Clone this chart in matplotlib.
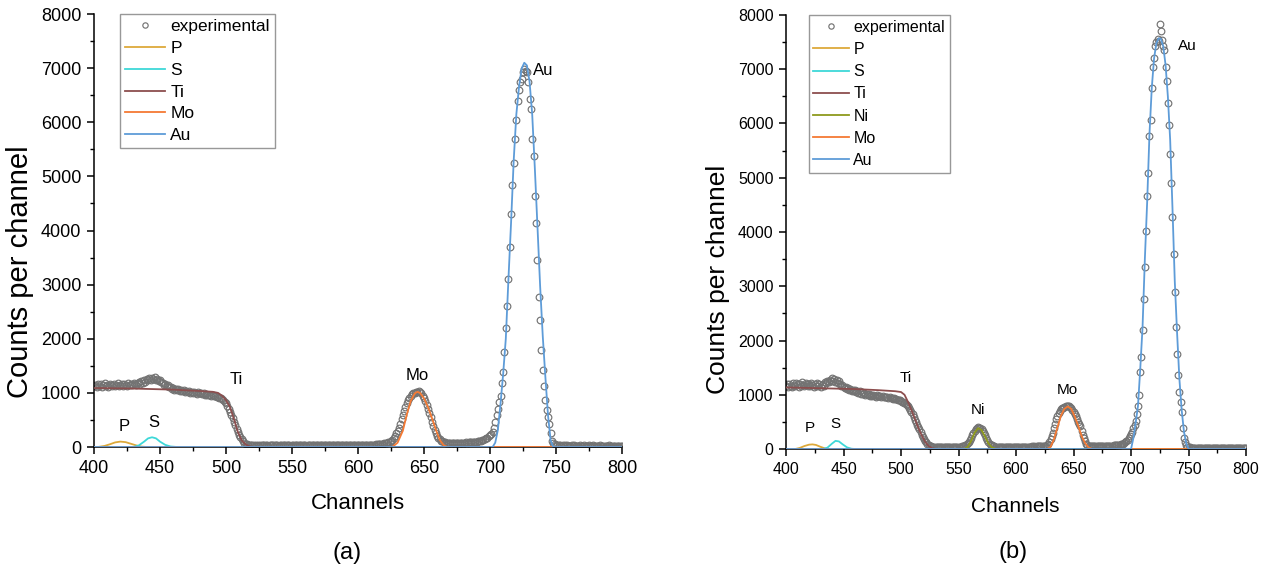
import numpy as np
import matplotlib.pyplot as plt
from matplotlib.ticker import MultipleLocator

plt.rcParams.update({
    "font.family": ["Liberation Sans", "DejaVu Sans"],
    "axes.linewidth": 1.1,
})

# ---------------- data: panel (a) ----------------
chan = np.arange(400, 801)

counts_a = [
    1120, 1150, 1110, 1160, 1130, 1170, 1100, 1140, 1180, 1120,
    1150, 1110, 1170, 1140, 1130, 1160, 1120, 1150, 1180, 1130,
    1140, 1170, 1120, 1160, 1150, 1130, 1180, 1140, 1170, 1150,
    1190, 1160, 1140, 1180, 1200, 1170, 1220, 1190, 1240, 1210,
    1260, 1230, 1270, 1240, 1280, 1250, 1290, 1230, 1260, 1220,
    1240, 1200, 1180, 1150, 1170, 1120, 1140, 1100, 1110, 1080,
    1090, 1060, 1080, 1050, 1070, 1040, 1060, 1030, 1050, 1020,
    1040, 1010, 1030, 1000, 1020, 990, 1010, 1000, 980, 1010,
    1000, 990, 980, 990, 970, 980, 960, 970, 960, 950,
    960, 950, 940, 930, 920, 910, 900, 880, 860, 840,
    810, 760, 710, 650, 590, 530, 470, 410, 340, 280,
    220, 180, 140, 110, 80, 60, 50, 40, 35, 32,
    30, 34, 28, 36, 31, 27, 35, 30, 33, 29,
    32, 36, 28, 34, 30, 37, 29, 33, 31, 35,
    28, 34, 32, 30, 36, 29, 33, 35, 31, 28,
    34, 30, 37, 32, 29, 35, 31, 33, 36, 30,
    32, 28, 35, 33, 30, 37, 31, 34, 29, 36,
    33, 30, 35, 32, 38, 31, 34, 36, 30, 35,
    33, 37, 32, 35, 31, 38, 34, 36, 33, 37,
    35, 32, 38, 36, 34, 39, 35, 37, 40, 36,
    38, 35, 40, 37, 39, 42, 38, 41, 39, 43,
    40, 42, 45, 44, 48, 50, 52, 55, 58, 60,
    65, 70, 78, 85, 95, 110, 130, 160, 200, 250,
    300, 360, 430, 510, 590, 670, 740, 810, 860, 910,
    950, 975, 990, 1000, 1010, 1020, 1030, 1010, 990, 950,
    900, 850, 780, 710, 630, 550, 470, 390, 320, 260,
    210, 170, 140, 120, 105, 95, 88, 82, 78, 75,
    72, 70, 72, 68, 74, 70, 76, 72, 78, 75,
    80, 78, 84, 82, 88, 86, 92, 95, 98, 100,
    100, 105, 110, 118, 125, 135, 145, 160, 175, 195,
    215, 240, 280, 360, 470, 600, 700, 830, 950, 1180,
    1380, 1750, 2200, 2600, 3100, 3700, 4300, 4850, 5250, 5700,
    6050, 6400, 6600, 6750, 6800, 6920, 6980, 6950, 6920, 6740,
    6430, 6240, 5690, 5380, 4640, 4140, 3460, 2780, 2350, 1800,
    1430, 1120, 870, 690, 560, 430, 250, 120, 70, 50,
    40, 35, 30, 32, 28, 30, 26, 29, 31, 27,
    28, 25, 30, 27, 29, 24, 28, 26, 30, 25,
    27, 29, 24, 28, 26, 30, 25, 27, 29, 24,
    26, 28, 25, 29, 27, 24, 28, 26, 25, 27,
    29, 24, 26, 28, 25, 27, 24, 26, 28, 25,
    26,
]

# fitted element curves (channel, counts) for panel (a)
p_a_ch = [400, 403, 408, 412, 416, 420, 424, 428, 432, 436, 440, 800]
p_a = [0, 0, 20, 50, 85, 100, 90, 60, 30, 8, 0, 0]
s_a_ch = [400, 430, 434, 438, 441, 444, 447, 450, 454, 458, 462, 466, 800]
s_a = [0, 0, 30, 100, 160, 180, 160, 100, 40, 10, 2, 0, 0]
ti_a_ch = [400, 430, 460, 480, 490, 494, 497, 500, 503, 506, 509, 512, 515, 518, 521, 800]
ti_a = [1090, 1080, 1060, 1035, 1020, 1000, 950, 870, 740, 520, 280, 120, 45, 10, 0, 0]
mo_a_ch = [400, 626, 630, 634, 637, 640, 643, 645, 647, 650, 653, 656, 659, 662, 665, 668, 800]
mo_a = [0, 0, 80, 300, 600, 850, 990, 1020, 1000, 900, 740, 540, 320, 130, 30, 0, 0]
au_a_ch = [400, 702, 704, 706, 708, 710, 712, 714, 716, 718, 720, 722, 724, 726,
           728, 730, 732, 734, 736, 738, 740, 742, 744, 746, 748, 800]
au_a = [0, 0, 80, 315, 800, 1350, 2000, 3100, 4150, 5300, 6150, 6650, 6990, 7100,
        7050, 6750, 6150, 5150, 4070, 2980, 2050, 1290, 580, 120, 0, 0]

# ---------------- data: panel (b) ----------------
counts_b = [
    1160, 1190, 1140, 1200, 1170, 1150, 1210, 1180, 1160, 1220,
    1190, 1150, 1200, 1170, 1230, 1180, 1160, 1210, 1190, 1170,
    1200, 1160, 1220, 1180, 1150, 1190, 1170, 1210, 1160, 1190,
    1140, 1180, 1200, 1170, 1240, 1210, 1260, 1230, 1280, 1250,
    1300, 1260, 1290, 1240, 1270, 1220, 1250, 1190, 1160, 1180,
    1140, 1120, 1150, 1100, 1120, 1090, 1110, 1070, 1090, 1060,
    1080, 1050, 1070, 1040, 1060, 1020, 1050, 1010, 1030, 1000,
    1020, 990, 1010, 980, 1000, 970, 990, 980, 960, 990,
    980, 970, 985, 960, 975, 955, 965, 950, 960, 940,
    950, 935, 945, 925, 935, 920, 915, 910, 905, 895,
    890, 875, 860, 845, 825, 810, 790, 760, 720, 680,
    640, 590, 540, 490, 440, 400, 360, 310, 260, 220,
    180, 150, 120, 95, 75, 60, 48, 42, 38, 35,
    33, 36, 31, 35, 38, 32, 34, 37, 33, 36,
    34, 38, 33, 36, 35, 39, 34, 37, 38, 36,
    40, 42, 45, 48, 52, 58, 70, 85, 105, 135,
    170, 210, 255, 300, 340, 370, 390, 400, 395, 385,
    360, 330, 290, 250, 205, 165, 130, 100, 80, 65,
    55, 50, 46, 44, 42, 40, 42, 39, 41, 38,
    40, 37, 41, 38, 42, 39, 43, 40, 38, 42,
    41, 39, 43, 40, 44, 42, 45, 41, 43, 46,
    44, 42, 46, 45, 47, 44, 48, 46, 49, 47,
    48, 50, 52, 53, 55, 58, 62, 75, 95, 130,
    180, 240, 300, 380, 470, 550, 610, 660, 700, 730,
    750, 765, 775, 785, 790, 790, 785, 770, 750, 720,
    680, 640, 600, 550, 500, 460, 420, 340, 260, 200,
    150, 100, 75, 62, 56, 54, 52, 53, 51, 54,
    52, 55, 53, 56, 54, 57, 55, 58, 56, 59,
    58, 61, 60, 63, 62, 66, 65, 69, 72, 75,
    80, 85, 90, 100, 110, 125, 145, 170, 200, 240,
    280, 320, 380, 440, 520, 640, 800, 990, 1420, 1700,
    2190, 2770, 3350, 4020, 4660, 5090, 5770, 6070, 6650, 7050,
    7200, 7420, 7500, 7550, 7520, 7830, 7700, 7540, 7420, 7360,
    7050, 6780, 6380, 5980, 5430, 4910, 4270, 3590, 2890, 2250,
    1760, 1360, 1050, 870, 690, 380, 200, 120, 65, 40,
    30, 28, 25, 27, 24, 26, 23, 25, 27, 24,
    22, 25, 23, 26, 24, 22, 25, 23, 24, 26,
    23, 25, 22, 24, 26, 23, 25, 22, 24, 23,
    25, 22, 24, 23, 26, 22, 24, 25, 23, 22,
    24, 23, 25, 22, 24, 23, 22, 25, 23, 24,
    23,
]

p_b_ch = [400, 408, 412, 416, 420, 423, 426, 430, 434, 437, 800]
p_b = [0, 0, 20, 55, 80, 85, 75, 40, 10, 0, 0]
s_b_ch = [400, 432, 436, 440, 443, 446, 449, 453, 457, 460, 800]
s_b = [0, 0, 25, 100, 150, 140, 90, 30, 5, 0, 0]
ti_b_ch = [400, 430, 460, 480, 495, 500, 503, 506, 509, 512, 515, 518, 521, 524, 527, 530, 800]
ti_b = [1135, 1120, 1105, 1085, 1065, 1050, 1000, 870, 720, 560, 390, 250, 130, 55, 15, 0, 0]
ni_b_ch = [400, 555, 558, 561, 564, 567, 570, 573, 576, 579, 582, 585, 800]
ni_b = [0, 0, 40, 150, 300, 385, 350, 230, 100, 30, 5, 0, 0]
mo_b_ch = [400, 627, 630, 633, 636, 639, 642, 645, 648, 651, 654, 657, 660, 663, 666, 800]
mo_b = [0, 0, 40, 180, 400, 610, 740, 785, 740, 600, 430, 240, 110, 30, 0, 0]
au_b_ch = [400, 700, 702, 704, 706, 708, 710, 712, 714, 716, 718, 720, 722, 724, 726,
           728, 730, 732, 734, 736, 738, 740, 742, 744, 746, 748, 750, 800]
au_b = [0, 0, 200, 480, 790, 1480, 2250, 3500, 4550, 5800, 6650, 7200, 7480, 7570, 7560,
        7420, 7080, 6500, 5700, 4450, 3100, 2150, 1300, 720, 320, 100, 0, 0]

colors = {"P": "#DDA93A", "S": "#3ED8D8", "Ti": "#8C4E4E", "Ni": "#8E9A1C",
          "Mo": "#F47A34", "Au": "#5E9CD8"}

# peak annotations (channel, counts)
labels_a = [("P", 423, 370), ("S", 445, 445), ("Ti", 508, 1240), ("Mo", 645, 1330), ("Au", 740, 6960)]
labels_b = [("P", 421, 385), ("S", 443, 460), ("Ti", 504, 1310), ("Ni", 567, 720),
            ("Mo", 645, 1090), ("Au", 749, 7430)]


def draw_panel(ax, counts, fits, labels, fs_tick, fs_leg, fs_lab, handlelen, spacing):
    ax.plot(chan, counts, 'o', ms=4.8, mfc='none', mec='#737373', mew=0.85,
            label='experimental', zorder=2)
    for name, ch, val in fits:
        ax.plot(ch, val, '-', color=colors[name], lw=1.3, label=name, zorder=3)
    for name, x, y in labels:
        ax.text(x, y, name, fontsize=fs_lab, ha='center', va='center')

    ax.set_xlim(400, 800)
    ax.set_ylim(0, 8000)
    ax.xaxis.set_major_locator(MultipleLocator(50))
    ax.xaxis.set_minor_locator(MultipleLocator(25))
    ax.yaxis.set_major_locator(MultipleLocator(1000))
    ax.yaxis.set_minor_locator(MultipleLocator(500))
    ax.tick_params(which='major', direction='out', length=5, width=1.1,
                   labelsize=fs_tick, pad=4)
    ax.tick_params(which='minor', direction='out', length=3, width=1.0)
    ax.spines['top'].set_visible(False)
    ax.spines['right'].set_visible(False)
    ax.patch.set_alpha(0)

    leg = ax.legend(loc='upper left', bbox_to_anchor=(0.049, 1.0), borderaxespad=0,
                    fontsize=fs_leg, frameon=True, fancybox=False, handlelength=handlelen,
                    handletextpad=0.3, labelspacing=spacing, borderpad=0.3, markerscale=0.8)
    leg.get_frame().set_edgecolor('#7f7f7f')
    leg.get_frame().set_linewidth(1.0)


fig = plt.figure(figsize=(12.68, 5.68), dpi=100)

ax_a = fig.add_axes([0.0741, 0.213, 0.4164, 0.7623])
fits_a = [("P", p_a_ch, p_a), ("S", s_a_ch, s_a), ("Ti", ti_a_ch, ti_a),
          ("Mo", mo_a_ch, mo_a), ("Au", au_a_ch, au_a)]
draw_panel(ax_a, counts_a, fits_a, labels_a, 13, 12.5, 12, 2.3, 0.38)

ax_b = fig.add_axes([0.6199, 0.2095, 0.3628, 0.7641])
fits_b = [("P", p_b_ch, p_b), ("S", s_b_ch, s_b), ("Ti", ti_b_ch, ti_b),
          ("Ni", ni_b_ch, ni_b), ("Mo", mo_b_ch, mo_b), ("Au", au_b_ch, au_b)]
draw_panel(ax_b, counts_b, fits_b, labels_b, 11.5, 11.5, 11, 2.2, 0.45)

# axis titles and panel tags
fig.text(0.0158, 0.522, "Counts per channel", rotation=90, ha='center', va='center', fontsize=21)
fig.text(0.282, 0.1144, "Channels", ha='center', va='center', fontsize=16)
fig.text(0.2734, 0.027, "(a)", ha='center', va='center', fontsize=17)
fig.text(0.5659, 0.509, "Counts per channel", rotation=90, ha='center', va='center', fontsize=19)
fig.text(0.801, 0.1074, "Channels", ha='center', va='center', fontsize=15)
fig.text(0.799, 0.0287, "(b)", ha='center', va='center', fontsize=17)

plt.savefig("out.png", dpi=100)
plt.close()
